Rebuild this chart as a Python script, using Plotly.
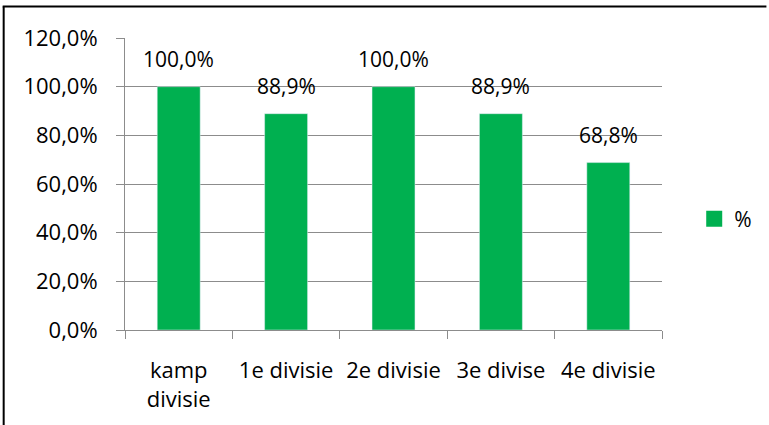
import plotly.graph_objects as go

categories = ["kamp<br>divisie", "1e divisie", "2e divisie", "3e divise", "4e divisie"]
values = [1.0, 0.889, 1.0, 0.889, 0.688]
series_name = "%"

FONT = "Open Sans"
GRID = "#8c8c8c"
GREEN = "#00b050"

W, H = 769, 425
L, T, R, B = 125, 38, 104, 95

fig = go.Figure()
fig.add_trace(
    go.Bar(
        x=categories,
        y=values,
        name=series_name,
        marker_color=GREEN,
        showlegend=False,
    )
)
# legend entry with a bigger square swatch
fig.add_trace(
    go.Scatter(
        x=[None],
        y=[None],
        mode="markers",
        name=series_name,
        marker=dict(symbol="square", size=16, color=GREEN),
    )
)

for c, v in zip(categories, values):
    fig.add_annotation(
        x=c, y=v,
        text=f"{v * 100:.1f}%".replace(".", ","),
        showarrow=False,
        yanchor="bottom",
        yshift=12,
        font=dict(size=21, color="#000000", family=FONT),
    )

# outer chart frame (top and left edges visible in the picture)
pw, ph = W - L - R, H - T - B
px = lambda v: (v - L) / pw
py = lambda v: (H - B - v) / ph
fig.add_shape(type="line", xref="paper", yref="paper",
              x0=px(2), x1=px(770), y0=py(6.5), y1=py(6.5),
              line=dict(color="black", width=2))
fig.add_shape(type="line", xref="paper", yref="paper",
              x0=px(3), x1=px(3), y0=py(6.5), y1=py(430),
              line=dict(color="black", width=2))

fig.update_layout(
    width=W,
    height=H,
    margin=dict(l=L, r=R, t=T, b=B),
    paper_bgcolor="white",
    plot_bgcolor="white",
    separators=",.",
    bargap=0.6,
    font=dict(family=FONT, size=21, color="#000000"),
    xaxis=dict(
        showgrid=False,
        showline=True,
        linecolor=GRID,
        linewidth=1,
        ticks="outside",
        tickson="boundaries",
        ticklen=8,
        tickcolor=GRID,
        ticklabelstandoff=21,
        tickfont=dict(size=22),
    ),
    yaxis=dict(
        range=[0, 1.2],
        dtick=0.2,
        tickformat=".1%",
        showgrid=True,
        gridcolor=GRID,
        gridwidth=1,
        showline=True,
        linecolor=GRID,
        ticks="outside",
        ticklen=8,
        tickcolor=GRID,
        zeroline=False,
        ticklabelstandoff=14,
        tickfont=dict(size=22),
    ),
    legend=dict(
        x=1.06,
        y=0.38,
        xanchor="left",
        yanchor="middle",
        font=dict(size=21),
        itemwidth=30,
    ),
)

fig.write_html(
    "out.html",
    config={"displayModeBar": False},
    post_script="document.body.style.margin='0';document.body.style.overflow='hidden';",
)
